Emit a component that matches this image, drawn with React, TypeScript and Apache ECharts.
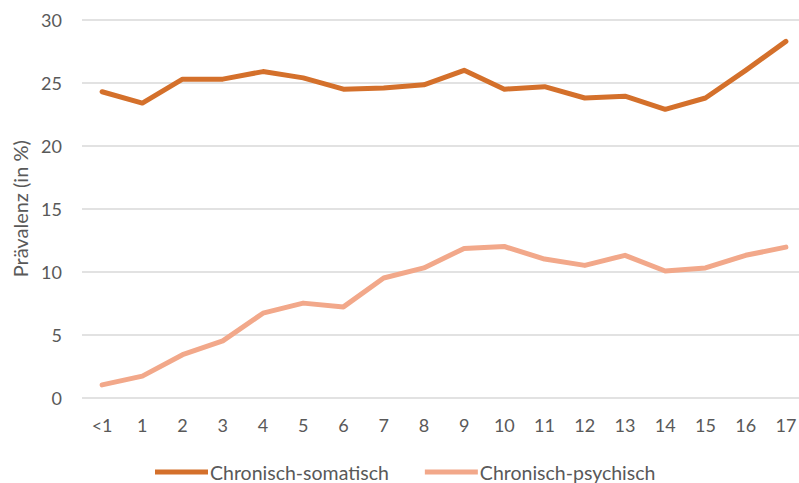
import React, { useEffect, useRef } from "react";
import * as echarts from "echarts";

const categories = ["<1", "1", "2", "3", "4", "5", "6", "7", "8", "9", "10", "11", "12", "13", "14", "15", "16", "17"];
const somatisch = [24.3, 23.4, 25.3, 25.3, 25.9, 25.4, 24.5, 24.6, 24.85, 26.0, 24.5, 24.7, 23.8, 23.95, 22.9, 23.8, 26.0, 28.3];
const psychisch = [1.0, 1.7, 3.4, 4.5, 6.7, 7.5, 7.2, 9.5, 10.3, 11.85, 12.0, 11.0, 10.5, 11.3, 10.05, 10.3, 11.3, 11.95];
const seriesNames = ["Chronisch-somatisch", "Chronisch-psychisch"];
const yAxisName = "Prävalenz (in %)";

const FONT = "Lato, 'Noto Sans', sans-serif";
const TEXT = "#595959";

export default function App() {
  const ref = useRef<HTMLDivElement>(null);
  useEffect(() => {
    if (!ref.current) return;
    const chart = echarts.init(ref.current, null, { renderer: "svg" });
    chart.setOption({
      animation: false,
      textStyle: { fontFamily: FONT },
      grid: { left: 82, right: -7, top: 20, bottom: 85.5, containLabel: false, outerBoundsMode: "none" },
      legend: {
        top: 462,
        left: 155,
        data: seriesNames,
        icon: "rect",
        itemWidth: 53,
        itemHeight: 5,
        itemGap: 36,
        padding: 0,
        textStyle: { fontFamily: FONT, fontSize: 19.5, color: TEXT, padding: [0, 0, 0, -3] },
      },
      xAxis: {
        type: "category",
        data: categories,
        boundaryGap: true,
        axisLine: { show: false },
        axisTick: { show: false },
        axisLabel: { color: TEXT, fontSize: 18, fontFamily: FONT, margin: 18, interval: 0 },
      },
      yAxis: {
        type: "value",
        min: 0,
        max: 30,
        interval: 5,
        name: yAxisName,
        nameLocation: "middle",
        nameGap: 52,
        nameTextStyle: { color: TEXT, fontSize: 20, fontFamily: FONT },
        axisLine: { show: false },
        axisTick: { show: false },
        axisLabel: { color: TEXT, fontSize: 18, fontFamily: FONT, margin: 20 },
        splitLine: { lineStyle: { color: "#D9D9D9", width: 1.5 } },
      },
      series: [
        {
          name: seriesNames[0],
          type: "line",
          data: somatisch,
          symbol: "none",
          lineStyle: { color: "#D4702B", width: 5, join: "round", cap: "round" },
          itemStyle: { color: "#D4702B" },
        },
        {
          name: seriesNames[1],
          type: "line",
          data: psychisch,
          symbol: "none",
          lineStyle: { color: "#F2A88A", width: 5, join: "round", cap: "round" },
          itemStyle: { color: "#F2A88A" },
        },
      ],
    });
    return () => chart.dispose();
  }, []);
  return <div ref={ref} style={{ width: 799, height: 483, position: "absolute", left: 0, top: 0 }} />;
}
